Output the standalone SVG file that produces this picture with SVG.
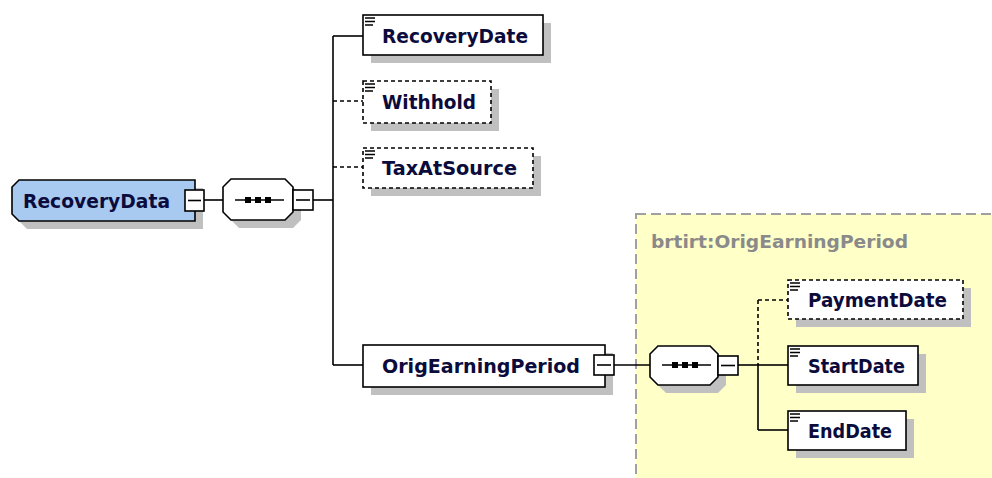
<svg xmlns="http://www.w3.org/2000/svg" width="992" height="478" viewBox="0 0 992 478">
<defs>
<style>
.t{font-family:"DejaVu Sans","Liberation Sans",sans-serif;font-weight:bold;font-size:19px;fill:#0b0b3c}
.lbl{font-family:"DejaVu Sans","Liberation Sans",sans-serif;font-weight:bold;font-size:18px;fill:#8a8a8a}
.box{fill:#fff;stroke:#000;stroke-width:1.6}
.dbox{fill:#fff;stroke:#000;stroke-width:1.6;stroke-dasharray:4,3}
.sh{fill:#c0c0c0}
.ln{fill:none;stroke:#000;stroke-width:1.6}
.dln{fill:none;stroke:#000;stroke-width:1.6;stroke-dasharray:4,3}
.ic{stroke:#000;stroke-width:1.6}
</style>
<g id="doc">
<path class="ic" d="M2 3H12M2 6.5H12M2 10H10"/>
</g>
<g id="seqicon">
<path class="ln" d="M12 21H61"/>
<rect x="22" y="18" width="6" height="6" fill="#000"/>
<rect x="32" y="18" width="6" height="6" fill="#000"/>
<rect x="42" y="18" width="6" height="6" fill="#000"/>
</g>
</defs>
<rect x="636" y="214" width="400" height="300" fill="#ffffc8" stroke="#a0a0a0" stroke-width="2" stroke-dasharray="10,5"/>
<text class="lbl" x="651" y="248" textLength="257" lengthAdjust="spacingAndGlyphs">brtirt:OrigEarningPeriod</text>
<g id="connectors">
<path class="ln" d="M204 200H223"/>
<path class="ln" d="M313 200H333"/>
<path class="ln" d="M333 36V365"/>
<path class="ln" d="M333 36H363"/>
<path class="dln" d="M333 101H363"/>
<path class="dln" d="M333 167H363"/>
<path class="ln" d="M333 365H363"/>
<path class="ln" d="M614 365H650"/>
<path class="ln" d="M738 365H758"/>
<path class="dln" d="M758 300V365"/>
<path class="ln" d="M758 365V430"/>
<path class="dln" d="M758 300H788"/>
<path class="ln" d="M758 365H788"/>
<path class="ln" d="M758 430H788"/>
</g>
<g id="RecoveryData">
<path class="sh" d="M27 188H203V229H27L20 222V195Z"/>
<path d="M19 180H195V221H19L12 214V187Z" fill="#a8c9f0" stroke="#000" stroke-width="1.6"/>
<text class="t" x="23" y="208" textLength="147" lengthAdjust="spacingAndGlyphs">RecoveryData</text>
<rect class="box" x="185" y="190" width="19" height="21"/>
<path class="ln" d="M188 200.5H201"/>
</g>
<g id="sequence1">
<path class="sh" d="M239 187H293L301 195V220L293 228H239L231 220V195Z"/>
<path d="M231 179H285L293 187V212L285 220H231L223 212V187Z" fill="#fff" stroke="#000" stroke-width="1.6"/>
<use href="#seqicon" x="223" y="179"/>
<rect class="box" x="293" y="190" width="20" height="20"/>
<path class="ln" d="M296 200H310"/>
</g>
<g id="RecoveryDate">
<rect class="sh" x="371" y="23" width="180" height="40"/>
<rect class="box" x="363" y="15" width="180" height="40"/>
<use href="#doc" x="363" y="15"/>
<text class="t" x="382" y="43" textLength="146" lengthAdjust="spacingAndGlyphs">RecoveryDate</text>
</g>
<g id="Withhold">
<rect class="sh" x="371" y="89" width="128" height="42"/>
<rect class="dbox" x="363" y="81" width="128" height="42"/>
<use href="#doc" x="363" y="81"/>
<text class="t" x="382" y="109" textLength="94" lengthAdjust="spacingAndGlyphs">Withhold</text>
</g>
<g id="TaxAtSource">
<rect class="sh" x="371" y="156" width="170" height="40"/>
<rect class="dbox" x="363" y="148" width="170" height="40"/>
<use href="#doc" x="363" y="148"/>
<text class="t" x="382" y="175" textLength="135" lengthAdjust="spacingAndGlyphs">TaxAtSource</text>
</g>
<g id="OrigEarningPeriod">
<rect class="sh" x="371" y="353" width="242" height="42"/>
<rect class="box" x="363" y="345" width="242" height="42"/>
<text class="t" x="382" y="373" textLength="198" lengthAdjust="spacingAndGlyphs">OrigEarningPeriod</text>
<rect class="box" x="594" y="355" width="20" height="20"/>
<path class="ln" d="M597 365H611"/>
</g>
<g id="sequence2">
<path class="sh" d="M666 354H718L726 362V385L718 393H666L658 385V362Z"/>
<path d="M658 346H710L718 354V377L710 385H658L650 377V354Z" fill="#fff" stroke="#000" stroke-width="1.6"/>
<use href="#seqicon" x="650" y="344"/>
<rect class="box" x="718" y="356" width="20" height="19"/>
<path class="ln" d="M721 365.5H735"/>
</g>
<g id="PaymentDate">
<rect class="sh" x="796" y="288" width="175" height="39"/>
<rect class="dbox" x="788" y="280" width="175" height="39"/>
<use href="#doc" x="788" y="280"/>
<text class="t" x="808" y="307" textLength="139" lengthAdjust="spacingAndGlyphs">PaymentDate</text>
</g>
<g id="StartDate">
<rect class="sh" x="796" y="354" width="130" height="39"/>
<rect class="box" x="788" y="346" width="130" height="39"/>
<use href="#doc" x="788" y="346"/>
<text class="t" x="808" y="373" textLength="97" lengthAdjust="spacingAndGlyphs">StartDate</text>
</g>
<g id="EndDate">
<rect class="sh" x="796" y="419" width="118" height="39"/>
<rect class="box" x="788" y="411" width="118" height="39"/>
<use href="#doc" x="788" y="411"/>
<text class="t" x="808" y="438" textLength="84" lengthAdjust="spacingAndGlyphs">EndDate</text>
</g>
</svg>
